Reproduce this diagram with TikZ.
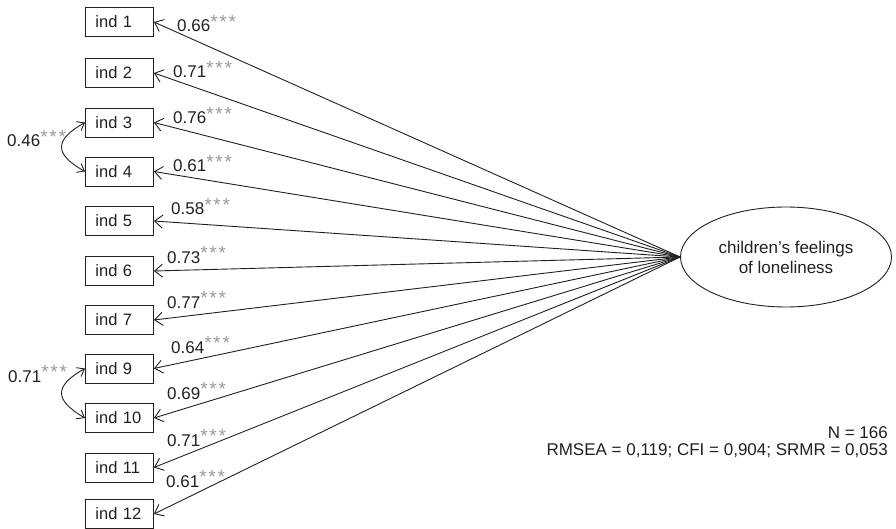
\documentclass[tikz,border=0pt]{standalone}
\usepackage{fontspec}
\setmainfont{Liberation Sans}
\usetikzlibrary{arrows.meta,shapes.geometric}
\definecolor{ink}{HTML}{231F20}
\definecolor{stargray}{HTML}{9A9A9A}
\newcommand{\onestar}{*}
\newcommand{\stars}{\raisebox{3.5pt}{\fontsize{19}{19}\selectfont\color{stargray}\onestar\hspace{1.8pt}\onestar\hspace{1.8pt}\onestar}}
\tikzset{
  indbox/.style={draw=ink, line width=0.9pt, anchor=west, minimum height=29pt, inner xsep=10pt, inner ysep=0pt, text width=48pt, align=left, text=ink, font=\fontsize{16.5}{18}\selectfont},
  lat/.style={draw=ink, line width=0.9pt, ellipse, minimum width=211pt, minimum height=100pt, inner sep=0pt, align=center, text=ink, font=\fontsize{17}{20}\selectfont},
  load/.style={draw=ink, line width=0.9pt, -{Straight Barb[length=8pt,width=13pt,line width=0.9pt]}},
  cov/.style={draw=ink, line width=0.9pt, {Straight Barb[length=6.5pt,width=10pt,line width=0.9pt]}-{Straight Barb[length=6.5pt,width=10pt,line width=0.9pt]}},
  lab/.style={anchor=base west, inner sep=0pt, text=ink, font=\fontsize{17}{18}\selectfont},
  fit/.style={anchor=base east, inner sep=0pt, text=ink, font=\fontsize{17}{18}\selectfont}
}
\begin{document}
\begin{tikzpicture}[x=1pt,y=-1pt]
\useasboundingbox (0,0) rectangle (896,529);
% latent
\node[lat] (L) at (786,257) {children’s feelings\\of loneliness};
% indicators
\node[indbox] (i1) at (85,22) {ind 1};
\node[indbox] (i2) at (85,73) {ind 2};
\node[indbox] (i3) at (85,122.5) {ind 3};
\node[indbox] (i4) at (85,171.5) {ind 4};
\node[indbox] (i5) at (85,221) {ind 5};
\node[indbox] (i6) at (85,271) {ind 6};
\node[indbox] (i7) at (85,320) {ind 7};
\node[indbox] (i9) at (85,368.5) {ind 9};
\node[indbox] (i10) at (85,418) {ind 10};
\node[indbox] (i11) at (85,467.5) {ind 11};
\node[indbox] (i12) at (85,514) {ind 12};
% loadings
\foreach \n in {1,2,3,4,5,6,7,9,10,11,12}{
  \draw[load] (L.west) -- (i\n.east);
}
% covariances
\draw[cov] (i3.west) .. controls (54,140) and (54,154) .. (i4.west);
\draw[cov] (i9.west) .. controls (54,386) and (54,400) .. (i10.west);
% loading labels
\node[lab] (l1) at (177,32) {0.66\stars};
\node[lab] (l2) at (173,78) {0.71\stars};
\node[lab] (l3) at (173,124) {0.76\stars};
\node[lab] (l4) at (173,172) {0.61\stars};
\node[lab] (l5) at (171,215) {0.58\stars};
\node[lab] (l6) at (167,263) {0.73\stars};
\node[lab] (l7) at (167,308) {0.77\stars};
\node[lab] (l9) at (171,353) {0.64\stars};
\node[lab] (l10) at (167,399) {0.69\stars};
\node[lab] (l11) at (167,446) {0.71\stars};
\node[lab] (l12) at (166,487) {0.61\stars};
\node[lab] (c34) at (7,147) {0.46\stars};
\node[lab] (c910) at (8,382) {0.71\stars};
% fit
\node[fit] (nn) at (888,438) {N = 166};
\node[fit] (fi) at (888,455) {RMSEA = 0,119; CFI = 0,904; SRMR = 0,053};
\end{tikzpicture}
\end{document}
